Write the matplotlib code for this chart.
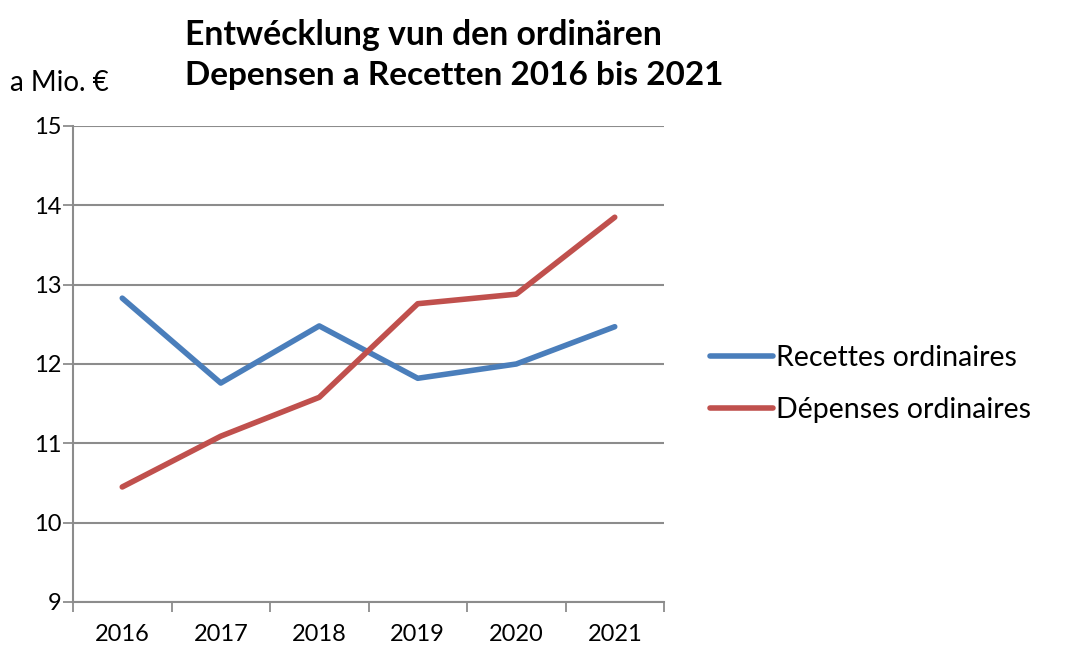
import matplotlib
matplotlib.use("Agg")
import matplotlib.pyplot as plt

years = ["2016", "2017", "2018", "2019", "2020", "2021"]
recettes = [12.83, 11.76, 12.48, 11.82, 12.00, 12.47]
depenses = [10.45, 11.09, 11.58, 12.76, 12.88, 13.85]
yticks = [9, 10, 11, 12, 13, 14, 15]

plt.rcParams['font.family'] = ['Lato', 'DejaVu Sans']

W, H = 1069, 653
fig = plt.figure(figsize=(W / 100, H / 100), dpi=100)
ax = fig.add_axes([73 / W, 1 - 602 / H, (664 - 73) / W, (602 - 126) / H])

x = list(range(len(years)))
blue = "#4A7EBB"
red = "#C0504D"
ax.plot(x, recettes, color=blue, lw=4.0, solid_capstyle='round', label="Recettes ordinaires", zorder=3)
ax.plot(x, depenses, color=red, lw=4.0, solid_capstyle='round', label="Dépenses ordinaires", zorder=3)

ax.set_xlim(-0.5, len(years) - 0.5)
ax.set_ylim(9, 15)
ax.set_yticks(yticks)
ax.set_yticklabels([str(v) for v in yticks], fontsize=17)
ax.yaxis.grid(True, color="#8c8c8c", lw=1.5)
ax.set_axisbelow(True)

ax.set_xticks([i - 0.5 for i in range(len(years) + 1)])
ax.set_xticklabels([])
ax.set_xticks(x, minor=True)
ax.set_xticklabels(years, minor=True, fontsize=17)
ax.tick_params(axis='x', which='minor', length=0, pad=16)
ax.tick_params(axis='x', which='major', length=7, width=1.3, color="#8c8c8c", direction='out')
ax.tick_params(axis='y', length=7, width=1.3, color="#8c8c8c", direction='out', pad=1.5)

for s in ['top', 'right']:
    ax.spines[s].set_visible(False)
for s in ['left', 'bottom']:
    ax.spines[s].set_color("#8c8c8c")
    ax.spines[s].set_linewidth(1.5)

fig.text(10 / W, 1 - 83 / H, "a Mio. €", fontsize=20, ha='left', va='center')
fig.text(185 / W, 1 - 35 / H, "Entwécklung vun den ordinären",
         fontsize=24.3, fontweight='bold', ha='left', va='center')
fig.text(185 / W, 1 - 75 / H, "Depensen a Recetten 2016 bis 2021",
         fontsize=24, fontweight='bold', ha='left', va='center')

leg = ax.legend(loc='center left', bbox_to_anchor=(710 / W, 1 - 384 / H),
                bbox_transform=fig.transFigure, frameon=False,
                fontsize=20.5, handlelength=2.2, handletextpad=0.12, labelspacing=0.9,
                borderaxespad=0, borderpad=0)

fig.savefig("out.png", dpi=100, facecolor="white")
